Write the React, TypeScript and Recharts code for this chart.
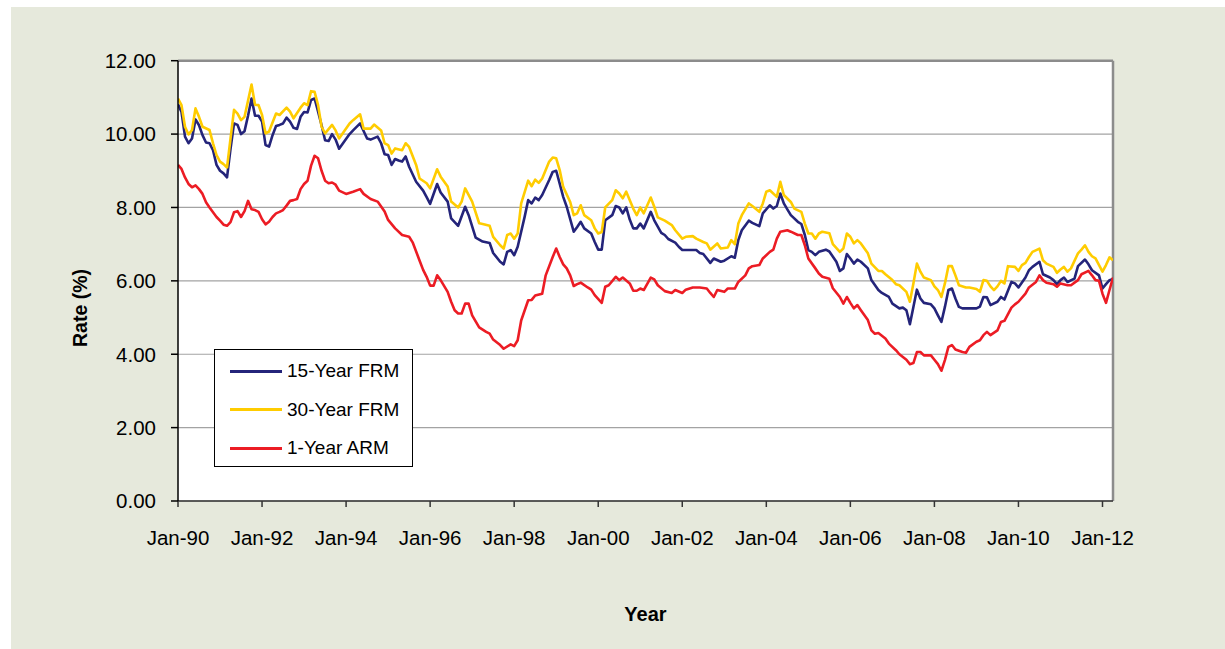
import { LineChart, Line, XAxis, YAxis, CartesianGrid, ReferenceLine, Legend } from "recharts";

// months counted from Jan-90 (0 = Jan-90), rates in percent
const frm15Months = [
  0, 1, 2, 3, 4, 5, 6, 7, 8, 9, 10, 11, 12, 13, 14, 15, 16, 17, 18, 19, 20, 21, 22, 23, 24, 25, 26, 27, 28, 29,
  30, 31, 32, 33, 34, 35, 36, 37, 38, 39, 40, 41, 42, 43, 44, 45, 46, 49, 50, 52, 54, 55, 57, 58, 59, 60, 61, 62,
  63, 64, 65, 66, 68, 70, 71, 72, 74, 75, 77, 78, 80, 82, 83, 85, 87, 89, 90, 92, 93, 94, 95, 96, 97, 99, 100,
  101, 102, 103, 104, 106, 107, 108, 109, 110, 111, 113, 114, 115, 116, 118, 119, 120, 121, 122, 124, 125, 126,
  127, 128, 129, 130, 131, 132, 133, 135, 136, 138, 139, 140, 142, 143, 144, 146, 148, 149, 150, 152, 153, 155,
  156, 158, 159, 160, 161, 163, 164, 166, 167, 169, 170, 171, 172, 173, 174, 175, 177, 178, 179, 180, 181, 182,
  183, 185, 186, 188, 189, 190, 191, 192, 193, 194, 195, 197, 198, 200, 201, 203, 204, 206, 207, 208, 209, 210,
  211, 212, 213, 215, 216, 217, 218, 219, 220, 221, 222, 223, 224, 226, 228, 229, 230, 231, 232, 234, 235, 236,
  238, 239, 240, 242, 243, 244, 246, 247, 249, 250, 251, 252, 253, 254, 256, 257, 259, 260, 261, 263, 264, 265,
  266, 267,
];
const frm15Rates = [
  10.81, 10.6, 9.93, 9.75, 9.88, 10.4, 10.24, 9.97, 9.77, 9.75, 9.56, 9.16, 9.0, 8.93, 8.82, 9.6, 10.29, 10.25,
  10.0, 10.08, 10.5, 10.97, 10.5, 10.5, 10.34, 9.7, 9.66, 9.97, 10.22, 10.25, 10.29, 10.45, 10.34, 10.17, 10.14,
  10.47, 10.6, 10.59, 10.93, 10.97, 10.61, 10.24, 9.83, 9.81, 10.0, 9.85, 9.6, 10.0, 10.1, 10.29, 9.88, 9.85,
  9.93, 9.75, 9.45, 9.43, 9.16, 9.32, 9.28, 9.25, 9.39, 9.11, 8.7, 8.46, 8.28, 8.1, 8.64, 8.41, 8.16, 7.7, 7.5,
  8.02, 7.79, 7.18, 7.07, 7.03, 6.76, 6.52, 6.45, 6.79, 6.84, 6.7, 6.93, 7.75, 8.2, 8.11, 8.27, 8.2, 8.34, 8.75,
  8.97, 9.0, 8.65, 8.29, 8.02, 7.34, 7.47, 7.61, 7.43, 7.29, 7.06, 6.85, 6.85, 7.65, 7.79, 8.04, 8.0, 7.84, 8.0,
  7.67, 7.43, 7.43, 7.56, 7.43, 7.88, 7.65, 7.31, 7.25, 7.14, 7.04, 6.93, 6.84, 6.84, 6.84, 6.76, 6.73, 6.49,
  6.61, 6.52, 6.55, 6.67, 6.63, 7.11, 7.38, 7.64, 7.58, 7.49, 7.84, 8.06, 7.97, 8.04, 8.38, 8.11, 7.95, 7.79,
  7.61, 7.55, 7.25, 6.84, 6.79, 6.7, 6.79, 6.85, 6.8, 6.52, 6.27, 6.34, 6.73, 6.61, 6.47, 6.58, 6.52, 6.34, 6.02,
  5.75, 5.67, 5.56, 5.38, 5.25, 5.27, 5.2, 4.82, 5.29, 5.76, 5.52, 5.4, 5.36, 5.25, 5.06, 4.88, 5.29, 5.75, 5.79,
  5.52, 5.29, 5.25, 5.25, 5.25, 5.3, 5.56, 5.55, 5.34, 5.43, 5.56, 5.49, 5.97, 5.93, 5.82, 6.09, 6.29, 6.38, 6.52,
  6.18, 6.09, 6.02, 5.91, 6.02, 6.09, 5.97, 6.06, 6.4, 6.58, 6.45, 6.29, 6.15, 5.79, 5.91, 6.02, 6.05,
];

const frm30Months = [
  0, 1, 2, 3, 4, 5, 6, 7, 9, 10, 11, 12, 13, 14, 15, 16, 17, 18, 19, 21, 22, 23, 24, 25, 26, 28, 29, 31, 32, 33,
  35, 36, 37, 38, 39, 40, 41, 42, 44, 45, 46, 49, 50, 52, 53, 55, 56, 58, 59, 60, 61, 62, 64, 65, 66, 68, 69, 71,
  72, 74, 75, 77, 78, 80, 81, 82, 84, 86, 87, 89, 90, 92, 93, 94, 95, 96, 97, 98, 100, 101, 102, 103, 104, 106,
  107, 108, 109, 110, 112, 113, 114, 115, 116, 118, 119, 120, 121, 122, 124, 125, 126, 127, 128, 130, 131, 132,
  133, 135, 136, 137, 139, 141, 142, 144, 145, 147, 148, 150, 151, 152, 154, 155, 157, 158, 159, 160, 161, 163,
  164, 166, 167, 168, 169, 171, 172, 173, 175, 176, 178, 179, 180, 181, 182, 183, 184, 186, 187, 189, 190, 191,
  192, 193, 194, 195, 197, 198, 200, 201, 202, 204, 205, 206, 208, 209, 210, 211, 212, 213, 215, 216, 217, 218,
  219, 220, 221, 222, 223, 225, 226, 228, 229, 230, 231, 232, 233, 234, 235, 236, 237, 239, 240, 241, 242, 243,
  244, 246, 247, 248, 250, 251, 252, 253, 254, 255, 257, 258, 259, 260, 261, 262, 264, 265, 266, 267,
];
const frm30Rates = [
  10.97, 10.79, 10.2, 9.99, 10.11, 10.7, 10.47, 10.2, 10.11, 9.75, 9.43, 9.25, 9.18, 9.09, 9.88, 10.66, 10.56,
  10.38, 10.47, 11.35, 10.8, 10.79, 10.52, 10.02, 10.07, 10.56, 10.52, 10.72, 10.61, 10.43, 10.72, 10.84, 10.79,
  11.17, 11.15, 10.79, 10.2, 10.02, 10.25, 10.1, 9.88, 10.29, 10.38, 10.54, 10.15, 10.15, 10.26, 10.1, 9.75, 9.7,
  9.47, 9.61, 9.56, 9.75, 9.65, 9.16, 8.79, 8.66, 8.52, 9.04, 8.84, 8.57, 8.16, 8.0, 8.16, 8.52, 8.16, 7.57, 7.55,
  7.5, 7.2, 6.97, 6.88, 7.25, 7.29, 7.15, 7.29, 8.11, 8.73, 8.58, 8.76, 8.67, 8.79, 9.25, 9.36, 9.34, 9.02, 8.56,
  8.15, 7.79, 7.84, 8.06, 7.79, 7.65, 7.43, 7.29, 7.33, 8.0, 8.2, 8.47, 8.38, 8.25, 8.43, 7.97, 7.79, 8.0, 7.84,
  8.27, 8.02, 7.73, 7.64, 7.52, 7.38, 7.15, 7.2, 7.22, 7.15, 7.06, 7.02, 6.85, 7.02, 6.88, 6.91, 7.11, 7.0, 7.56,
  7.79, 8.11, 8.04, 7.88, 8.11, 8.43, 8.47, 8.29, 8.7, 8.34, 8.15, 7.97, 7.88, 7.56, 7.29, 7.29, 7.15, 7.29, 7.34,
  7.3, 7.0, 6.79, 6.88, 7.29, 7.2, 7.02, 7.11, 7.02, 6.75, 6.47, 6.27, 6.27, 6.18, 6.02, 5.91, 5.88, 5.7, 5.43,
  5.93, 6.47, 6.25, 6.09, 6.02, 5.85, 5.75, 5.56, 5.93, 6.4, 6.4, 6.15, 5.88, 5.82, 5.82, 5.78, 5.7, 6.02, 6.0,
  5.85, 5.75, 5.85, 6.0, 5.93, 6.4, 6.38, 6.27, 6.43, 6.49, 6.65, 6.79, 6.88, 6.56, 6.47, 6.38, 6.22, 6.31, 6.38,
  6.25, 6.34, 6.75, 6.85, 6.97, 6.79, 6.67, 6.61, 6.25, 6.43, 6.64, 6.56,
];

const arm1Months = [
  0, 1, 2, 3, 4, 5, 6, 7, 8, 9, 10, 11, 12, 13, 14, 15, 16, 17, 18, 19, 20, 21, 22, 23, 24, 25, 26, 27, 28, 29,
  30, 31, 32, 33, 34, 35, 36, 37, 38, 39, 40, 41, 42, 43, 44, 45, 46, 48, 50, 52, 53, 55, 57, 59, 60, 62, 64, 66,
  67, 69, 70, 71, 72, 73, 74, 75, 77, 78, 79, 80, 81, 82, 83, 84, 86, 88, 89, 90, 92, 93, 95, 96, 97, 98, 100,
  101, 102, 104, 105, 107, 108, 109, 110, 111, 112, 113, 114, 115, 117, 118, 119, 121, 122, 123, 125, 126, 127,
  129, 130, 131, 132, 133, 135, 136, 137, 139, 141, 142, 144, 145, 147, 149, 151, 152, 153, 154, 156, 157, 159,
  160, 162, 163, 164, 166, 167, 169, 170, 171, 172, 174, 175, 177, 178, 179, 180, 182, 183, 184, 186, 187, 189,
  190, 191, 192, 193, 194, 195, 197, 198, 199, 200, 202, 203, 205, 206, 208, 209, 210, 211, 212, 213, 215, 216,
  217, 218, 219, 220, 221, 222, 224, 225, 226, 228, 229, 230, 231, 232, 234, 235, 236, 238, 239, 240, 242, 243,
  245, 246, 247, 248, 250, 251, 252, 254, 255, 257, 258, 260, 261, 262, 263, 264, 265, 266, 267,
];
const arm1Rates = [
  9.16, 9.05, 8.82, 8.64, 8.55, 8.6, 8.5, 8.37, 8.14, 8.0, 7.87, 7.74, 7.64, 7.53, 7.5, 7.6, 7.87, 7.9, 7.74, 7.9,
  8.18, 7.95, 7.93, 7.88, 7.68, 7.54, 7.61, 7.74, 7.84, 7.88, 7.93, 8.05, 8.18, 8.2, 8.23, 8.5, 8.64, 8.73, 9.14,
  9.41, 9.34, 9.0, 8.73, 8.66, 8.68, 8.62, 8.46, 8.37, 8.43, 8.5, 8.37, 8.23, 8.16, 7.89, 7.66, 7.43, 7.25, 7.2,
  7.05, 6.55, 6.3, 6.11, 5.87, 5.87, 6.15, 6.02, 5.7, 5.43, 5.2, 5.11, 5.11, 5.38, 5.38, 5.06, 4.73, 4.61, 4.56,
  4.4, 4.25, 4.15, 4.27, 4.22, 4.38, 4.92, 5.47, 5.48, 5.6, 5.65, 6.15, 6.65, 6.88, 6.65, 6.45, 6.34, 6.15, 5.86,
  5.91, 5.95, 5.82, 5.76, 5.61, 5.4, 5.84, 5.88, 6.11, 6.02, 6.09, 5.93, 5.73, 5.73, 5.79, 5.75, 6.09, 6.04, 5.88,
  5.72, 5.67, 5.75, 5.67, 5.76, 5.82, 5.82, 5.79, 5.67, 5.56, 5.75, 5.7, 5.79, 5.79, 5.97, 6.15, 6.34, 6.4, 6.43,
  6.61, 6.79, 6.85, 7.15, 7.34, 7.38, 7.34, 7.25, 7.25, 6.97, 6.61, 6.34, 6.2, 6.11, 6.06, 5.8, 5.56, 5.38, 5.56,
  5.4, 5.25, 5.34, 5.2, 4.93, 4.65, 4.56, 4.58, 4.43, 4.29, 4.11, 4.0, 3.85, 3.73, 3.76, 4.06, 4.06, 3.97, 3.97,
  3.85, 3.73, 3.55, 3.84, 4.2, 4.25, 4.13, 4.06, 4.04, 4.2, 4.34, 4.38, 4.52, 4.61, 4.52, 4.65, 4.88, 4.91, 5.27,
  5.36, 5.43, 5.65, 5.82, 5.97, 6.15, 6.02, 5.95, 5.91, 5.84, 5.93, 5.88, 5.88, 6.02, 6.18, 6.27, 6.15, 6.02, 6.0,
  5.65, 5.4, 5.75, 6.09,
];

const startYear = 1990;
const lastMonth = 267; // Apr-12
const xTicks = [0, 24, 48, 72, 96, 120, 144, 168, 192, 216, 240, 264];
const yTicks = [0, 2, 4, 6, 8, 10, 12];

const toPoints = (months: number[], rates: number[]) =>
  months.map((m, i) => ({ month: m, rate: rates[i] }));

const series = [
  { name: "15-Year FRM", color: "#24247A", data: toPoints(frm15Months, frm15Rates) },
  { name: "30-Year FRM", color: "#FFCC00", data: toPoints(frm30Months, frm30Rates) },
  { name: "1-Year ARM", color: "#EC1C24", data: toPoints(arm1Months, arm1Rates) },
];

const font = "'Liberation Sans', Arial, sans-serif";

const monthLabel = (m: number) => {
  const yr = (startYear + Math.floor(m / 12)) % 100;
  return "Jan-" + String(yr).padStart(2, "0");
};

function LegendBox() {
  return (
    <div
      style={{
        width: 197,
        height: 114,
        border: "1px solid #000",
        background: "#fff",
        fontFamily: font,
        fontSize: 19,
        color: "#000",
        boxSizing: "content-box",
        paddingTop: 2,
      }}
    >
      {series.map((s) => (
        <div key={s.name} style={{ display: "flex", alignItems: "center", height: 38.5 }}>
          <div style={{ width: 52, height: 3, background: s.color, marginLeft: 15, marginRight: 5 }} />
          <span>{s.name}</span>
        </div>
      ))}
    </div>
  );
}

export default function App() {
  return (
    <div style={{ position: "absolute", left: 0, top: 0, width: 1225, height: 649, background: "#fff" }}>
      <div
        style={{
          position: "absolute",
          left: 11,
          top: 7,
          width: 1214,
          height: 642,
          background: "#E6E9DC",
        }}
      >
        <LineChart
          width={1214}
          height={642}
          margin={{ top: 53.7, right: 112, bottom: 118, left: 87 }}
        >
          <CartesianGrid vertical={false} stroke="#A3A3A3" strokeWidth={1.2} fill="#fff" />
          <XAxis
            type="number"
            dataKey="month"
            domain={[0, lastMonth]}
            ticks={xTicks}
            tickFormatter={monthLabel}
            allowDataOverflow
            height={30}
            stroke="#333"
            strokeWidth={1.5}
            tickSize={6}
            tickMargin={23}
            tick={{ fill: "#000", fontSize: 20.5, fontFamily: font }}
          />
          <YAxis
            type="number"
            domain={[0, 12]}
            ticks={yTicks}
            tickFormatter={(v: number) => v.toFixed(2)}
            width={80}
            stroke="#000"
            strokeWidth={1.5}
            tickSize={7}
            tickMargin={15}
            tick={{ fill: "#000", fontSize: 20.5, fontFamily: font }}
          />
          <ReferenceLine y={12} stroke="#8C8C8C" strokeWidth={2.5} />
          <ReferenceLine x={lastMonth} stroke="#8C8C8C" strokeWidth={2.5} />
          {series.map((s) => (
            <Line
              key={s.name}
              data={s.data}
              dataKey="rate"
              name={s.name}
              type="linear"
              stroke={s.color}
              strokeWidth={2.6}
              strokeLinejoin="round"
              dot={false}
              activeDot={false}
              isAnimationActive={false}
            />
          ))}
          <Legend
            layout="vertical"
            align="center"
            verticalAlign="middle"
            content={() => <LegendBox />}
            wrapperStyle={{ left: 203, top: 342, width: 199, height: 117 }}
          />
        </LineChart>
        <div
          style={{
            position: "absolute",
            left: 0,
            width: 1214,
            top: 596,
            textAlign: "center",
            paddingLeft: 55,
            boxSizing: "border-box",
            fontFamily: font,
            fontWeight: "bold",
            fontSize: 20,
            color: "#000",
          }}
        >
          Year
        </div>
        <div
          style={{
            position: "absolute",
            left: 69,
            top: 301,
            transform: "translate(-50%, -50%) rotate(-90deg)",
            fontFamily: font,
            fontWeight: "bold",
            fontSize: 19.5,
            color: "#000",
            whiteSpace: "nowrap",
          }}
        >
          Rate (%)
        </div>
      </div>
    </div>
  );
}
